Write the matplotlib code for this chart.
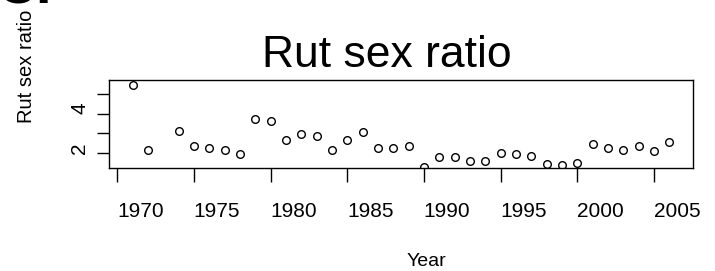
import matplotlib
matplotlib.use("Agg")
import matplotlib.pyplot as plt
import matplotlib.transforms as mtransforms

plt.rcParams['font.family'] = ['Liberation Sans', 'DejaVu Sans']

# rut sex ratio per year (1973 missing)
years = [1971, 1972, 1974, 1975, 1976, 1977, 1978, 1979, 1980, 1981, 1982, 1983,
         1984, 1985, 1986, 1987, 1988, 1989, 1990, 1991, 1992, 1993, 1994, 1995,
         1996, 1997, 1998, 1999, 2000, 2001, 2002, 2003, 2004, 2005, 2006]
ratio = [5.45, 2.17, 3.14, 2.37, 2.25, 2.17, 1.96, 3.73, 3.63, 2.66, 2.96, 2.86,
         2.18, 2.66, 3.06, 2.25, 2.25, 2.37, 1.32, 1.80, 1.80, 1.63, 1.63, 2.00,
         1.96, 1.88, 1.46, 1.42, 1.49, 2.47, 2.27, 2.17, 2.37, 2.10, 2.59]

xticks = [1970, 1975, 1980, 1985, 1990, 1995, 2000, 2005]
yticks = [2, 3, 4, 5]
ytick_labels = ['2', '', '4', '']

W, H = 715, 271
fig = plt.figure(figsize=(W / 100, H / 100), dpi=100)
ax = fig.add_axes([109.3 / W, 1 - 168.3 / H, (693 - 109.3) / W, (168.3 - 80) / H])

ax.plot(years, ratio, linestyle='none', marker='o', mfc='none', mec='black',
        ms=5.5, mew=1.0)
ax.set_xlim(1969.48, 2007.55)
ax.set_ylim(1.24, 5.70)

for s in ax.spines.values():
    s.set_linewidth(1.0)

ax.set_xticks(xticks)
ax.set_xticklabels([str(t) for t in xticks])
ax.set_yticks(yticks)
ax.set_yticklabels(ytick_labels, rotation=90, va='center')
ax.tick_params(axis='x', length=10, width=1.0, pad=14, labelsize=15)
ax.tick_params(axis='y', length=8.6, width=1.0, pad=6, labelsize=15)

# labels sit a little off their ticks in the original
dx = mtransforms.ScaledTranslation(0.23, 0, fig.dpi_scale_trans)
for lab in ax.get_xticklabels():
    lab.set_transform(lab.get_transform() + dx)
dy = mtransforms.ScaledTranslation(0, 0.05, fig.dpi_scale_trans)
for lab in ax.get_yticklabels():
    lab.set_transform(lab.get_transform() + dy)

fig.text(387 / W, 1 - 66.7 / H, 'Rut sex ratio', fontsize=32,
         ha='center', va='baseline')
fig.text(426 / W, 1 - 261 / H, 'Year', fontsize=14, ha='center', va='center')
fig.text(27 / W, 1 - 66.5 / H, 'Rut sex ratio', fontsize=14.5, rotation=90,
         ha='center', va='center')

# panel letter, mostly cut off above the image
fig.text(-3 / W, 1 - 4 / H, 'C.', fontsize=40, fontweight='bold',
         ha='left', va='baseline')

fig.savefig('out.png', dpi=100)
